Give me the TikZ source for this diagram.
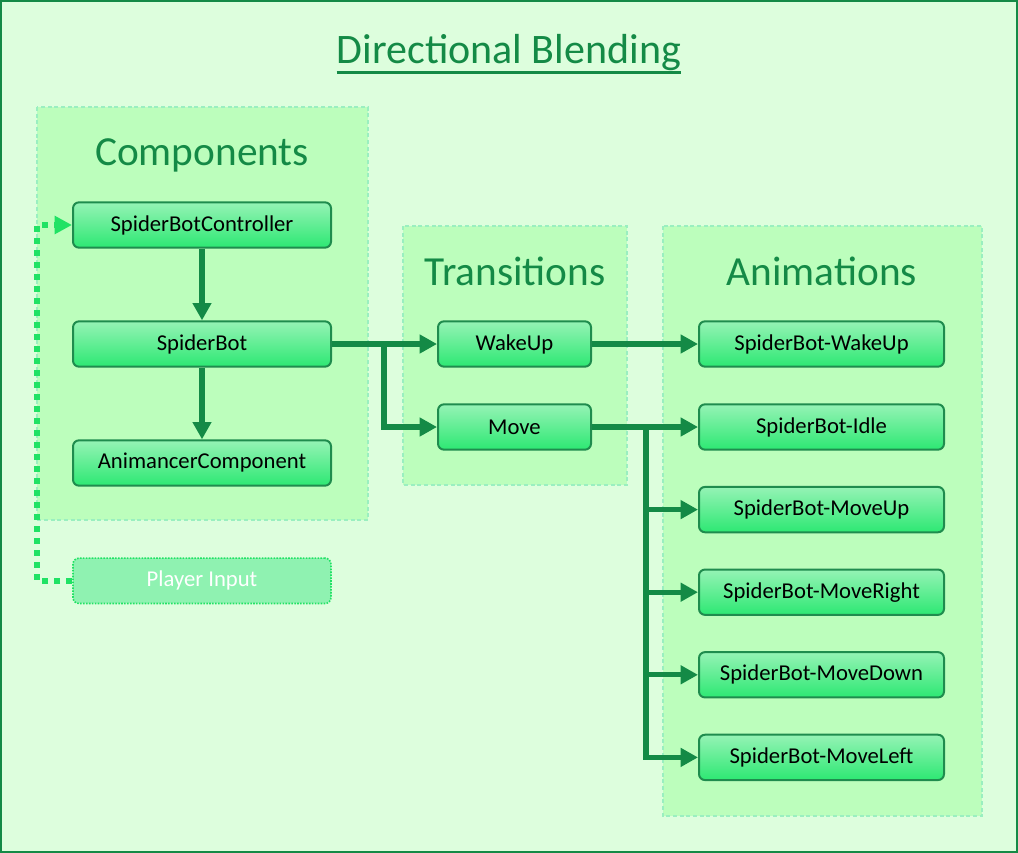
\documentclass[tikz,border=0pt]{standalone}
\usepackage{fontspec}
\setmainfont{Carlito}
\usetikzlibrary{arrows.meta,positioning}

\definecolor{darkGreen}{HTML}{148A46}
\definecolor{pageGreen}{HTML}{DDFEDD}
\definecolor{groupGreen}{HTML}{BCFEBC}
\definecolor{groupLine}{HTML}{9AEFC0}
\definecolor{boxLine}{HTML}{1F8C4E}
\definecolor{boxTop}{HTML}{95F3B5}
\definecolor{boxBot}{HTML}{2DE873}
\definecolor{inputFill}{HTML}{8FF2B1}
\definecolor{brightGreen}{HTML}{20E264}

\begin{document}
\begin{tikzpicture}[
  x=0.75pt, y=-0.75pt,
  node distance=26.45pt,
  box/.style={draw=boxLine, line width=1.5pt, rounded corners=4.5pt, top color=boxTop, bottom color=boxBot,
    minimum width=193.5pt, minimum height=34pt, font=\fontsize{17}{20}\selectfont},
  tbox/.style={box, minimum width=114.75pt},
  abox/.style={box, minimum width=183.75pt},
  inbox/.style={draw=brightGreen, line width=1.2pt, densely dotted, rounded corners=4.5pt, fill=inputFill, text=white,
    minimum width=193.5pt, minimum height=34pt, font=\fontsize{17}{20}\selectfont},
  group/.style={draw=groupLine, fill=groupGreen, line width=0.8pt, dash pattern=on 3pt off 2pt},
  header/.style={anchor=base, text=darkGreen, font=\fontsize{31}{36}\selectfont},
  flow/.style={draw=darkGreen, line width=4pt, -{Triangle[length=13pt, width=13.5pt]}},
  input/.style={draw=brightGreen, line width=4.5pt, dash pattern=on 4.5pt off 4.5pt, -{Triangle[length=13pt, width=13pt]}}
]
  \useasboundingbox (0,0) rectangle (1018,853);
  \draw[darkGreen, fill=pageGreen, line width=1.5pt] (1,1) rectangle (1017,852);

  % Title
  \node[header, inner sep=0pt, font=\fontsize{31.5}{38}\selectfont] (title) at (509,63) {Directional Blending};
  \draw[darkGreen, line width=2pt] ([yshift=-1.5pt]title.south west) -- ([yshift=-1.5pt]title.south east);

  % Groups
  \draw[group] (37,107) rectangle (368,520);
  \draw[group] (403,226) rectangle (627,485);
  \draw[group] (663,226) rectangle (982,816);
  \node[header] (hComp) at (202,165) {Components};
  \node[header] (hTrans) at (515,285) {Transitions};
  \node[header] (hAnim) at (822,285) {Animations};

  % Nodes
  \node[box] (ctrl) at (202,225) {SpiderBotController};
  \node[box, below=53.75pt of ctrl] (bot) {SpiderBot};
  \node[box, below=53.75pt of bot] (anim) {AnimancerComponent};
  \node[inbox, below=53pt of anim] (input) {Player Input};

  \node[tbox] (wake) at (514.5,344) {WakeUp};
  \node[tbox, below=26.75pt of wake] (move) {Move};

  \node[abox] (aWake) at (821.5,344) {SpiderBot-WakeUp};
  \node[abox] (aIdle) at (821.5,427) {SpiderBot-Idle};
  \node[abox, below=of aIdle] (aUp) {SpiderBot-MoveUp};
  \node[abox, below=of aUp] (aRight) {SpiderBot-MoveRight};
  \node[abox, below=of aRight] (aDown) {SpiderBot-MoveDown};
  \node[abox, below=of aDown] (aLeft) {SpiderBot-MoveLeft};

  % Arrows
  \draw[flow] (ctrl) -- (bot);
  \draw[flow] (bot) -- (anim);
  \draw[flow] (bot) -- (wake);
  \draw[flow] ([xshift=39pt]bot.east) |- (move);
  \draw[flow] (wake) -- (aWake);
  \draw[flow] (move) -- (aIdle);
  \foreach \n in {aUp,aRight,aDown,aLeft}
    \draw[flow] ([xshift=40.5pt]move.east) |- (\n);
  \draw[input] (input.west) -- ++(-26.25pt,0) |- (ctrl.west);
\end{tikzpicture}
\end{document}
